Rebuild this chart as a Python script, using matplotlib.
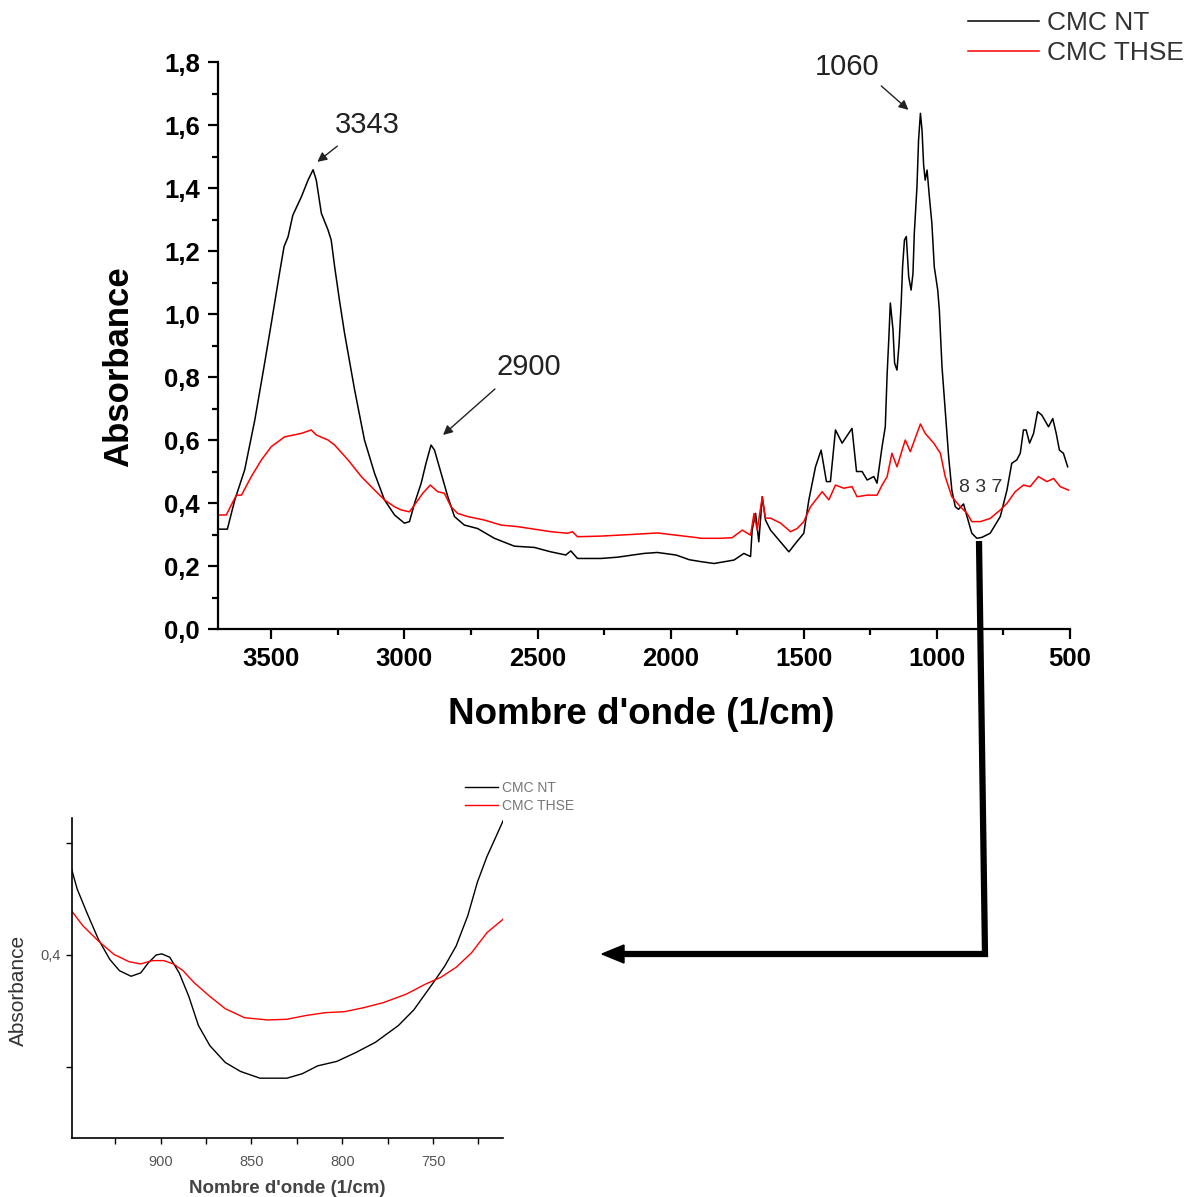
import matplotlib
matplotlib.use('Agg')
import matplotlib.pyplot as plt
from matplotlib.ticker import MultipleLocator, FuncFormatter, FixedLocator
from matplotlib.patches import Polygon

plt.rcParams['font.family'] = ['Liberation Sans', 'DejaVu Sans']

# ---------------- data ----------------
series_labels = ['CMC NT', 'CMC THSE']

nt_x = [3700, 3665, 3637, 3600, 3562, 3525, 3500, 3469, 3452, 3437, 3419, 3387, 3362, 3343,
        3331, 3312, 3287, 3275, 3262, 3244, 3225, 3187, 3150, 3112, 3075, 3037, 3000, 2981,
        2962, 2937, 2919, 2900, 2887, 2862, 2837, 2812, 2775, 2725, 2662, 2587, 2512, 2450,
        2394, 2375, 2350, 2262, 2200, 2100, 2050, 1980, 1930, 1887, 1837, 1762, 1725, 1700,
        1694, 1681, 1669, 1656, 1644, 1625, 1594, 1556, 1531, 1500, 1481, 1456, 1435, 1415,
        1400, 1381, 1356, 1319, 1302, 1281, 1262, 1237, 1225, 1206, 1194, 1187, 1181, 1175,
        1165, 1159, 1150, 1142, 1134, 1129, 1122, 1115, 1106, 1097, 1090, 1085, 1075, 1069,
        1062, 1056, 1050, 1044, 1037, 1029, 1019, 1010, 997, 991, 981, 969, 956, 944, 931,
        919, 900, 887, 869, 850, 831, 800, 762, 737, 719, 700, 687, 675, 665, 652, 637, 622,
        606, 581, 565, 552, 540, 525, 509]
nt_y = [0.317, 0.317, 0.41, 0.505, 0.663, 0.844, 0.97, 1.13, 1.214, 1.245, 1.314, 1.372, 1.425, 1.458,
        1.425, 1.32, 1.267, 1.235, 1.15, 1.044, 0.94, 0.759, 0.6, 0.494, 0.41, 0.362, 0.336, 0.341,
        0.399, 0.463, 0.526, 0.584, 0.568, 0.494, 0.42, 0.357, 0.33, 0.319, 0.288, 0.263, 0.259, 0.245,
        0.235, 0.248, 0.224, 0.224, 0.228, 0.240, 0.243, 0.235, 0.220, 0.214, 0.208, 0.219, 0.240, 0.230,
        0.314, 0.367, 0.277, 0.420, 0.346, 0.314, 0.283, 0.245, 0.272, 0.304, 0.41, 0.515, 0.568, 0.468,
        0.468, 0.632, 0.59, 0.637, 0.5, 0.5, 0.473, 0.484, 0.463, 0.579, 0.642, 0.81, 0.917, 1.035,
        0.95, 0.844, 0.822, 0.907, 1.04, 1.15, 1.235, 1.246, 1.118, 1.076, 1.129, 1.256, 1.404, 1.552,
        1.637, 1.584, 1.473, 1.425, 1.457, 1.378, 1.288, 1.15, 1.076, 1.013, 0.833, 0.695, 0.547, 0.441, 0.388,
        0.38, 0.397, 0.357, 0.304, 0.288, 0.291, 0.304, 0.357, 0.441, 0.526, 0.537, 0.558, 0.632, 0.632, 0.59, 0.621, 0.69,
        0.679, 0.642, 0.668, 0.621, 0.568, 0.558, 0.515]

thse_x = [3700, 3669, 3650, 3631, 3612, 3575, 3537, 3500, 3450, 3387, 3350, 3331, 3287, 3262,
          3212, 3162, 3112, 3075, 3037, 3012, 2981, 2962, 2931, 2903, 2875, 2850, 2825, 2800,
          2762, 2700, 2637, 2575, 2512, 2450, 2387, 2369, 2350, 2262, 2150, 2050, 1980, 1900,
          1887, 1812, 1769, 1731, 1700, 1687, 1675, 1656, 1644, 1625, 1587, 1550, 1525, 1500,
          1475, 1431, 1406, 1381, 1350, 1319, 1300, 1262, 1225, 1206, 1187, 1169, 1150, 1119,
          1100, 1062, 1044, 1012, 987, 969, 944, 912, 887, 869, 837, 800, 762, 737, 706, 675,
          650, 619, 587, 562, 537, 506]
thse_y = [0.362, 0.362, 0.394, 0.425, 0.425, 0.484, 0.537, 0.579, 0.61, 0.621, 0.632, 0.616, 0.6, 0.584,
          0.537, 0.484, 0.441, 0.41, 0.388, 0.378, 0.372, 0.394, 0.431, 0.457, 0.436, 0.431, 0.388, 0.367,
          0.357, 0.346, 0.33, 0.325, 0.317, 0.309, 0.304, 0.309, 0.293, 0.295, 0.300, 0.305, 0.298, 0.290,
          0.288, 0.288, 0.29, 0.314, 0.298, 0.367, 0.314, 0.42, 0.352, 0.352, 0.336, 0.309, 0.319, 0.341,
          0.388, 0.436, 0.41, 0.457, 0.447, 0.452, 0.42, 0.425, 0.425, 0.457, 0.484, 0.558, 0.515, 0.6,
          0.563, 0.651, 0.621, 0.59, 0.558, 0.484, 0.42, 0.388, 0.367, 0.341, 0.341, 0.351, 0.378, 0.399, 0.436, 0.457,
          0.452, 0.484, 0.468, 0.478, 0.452, 0.441]

# zoomed region (inset)
zoom_nt_x = [949.8, 946, 940.7, 934.3, 928, 922.7, 916.3, 911, 906.8, 902.5, 899.4, 895, 889.8, 884.5,
             879.2, 872.9, 864.4, 856, 845.3, 830.5, 822, 813.6, 803, 792.4, 781.8, 769.1, 760.6, 750,
             743.6, 737.3, 730.9, 725.6, 720.3, 716.1, 711.4]
zoom_nt_y = [0.481, 0.459, 0.438, 0.414, 0.396, 0.386, 0.381, 0.384, 0.393, 0.400, 0.401, 0.398, 0.384, 0.363,
             0.337, 0.319, 0.304, 0.296, 0.290, 0.290, 0.294, 0.301, 0.305, 0.313, 0.322, 0.337, 0.351, 0.375,
             0.390, 0.408, 0.435, 0.465, 0.488, 0.503, 0.520]
zoom_thse_x = [949.8, 942.8, 934.3, 925.8, 917.4, 911, 904.7, 898.3, 893, 887.7, 881.4, 872.9, 864.4, 853.8,
               841.1, 830.5, 819.9, 809.3, 798.7, 788.1, 777.5, 764.8, 754.2, 745.8, 737.3, 728.8, 720.3, 711.4]
zoom_thse_y = [0.441, 0.426, 0.4125, 0.4006, 0.394, 0.392, 0.395, 0.395, 0.392, 0.386, 0.375, 0.363, 0.352, 0.344,
               0.342, 0.3426, 0.346, 0.3485, 0.3494, 0.353, 0.3574, 0.365, 0.374, 0.380, 0.389, 0.402, 0.420, 0.432]

peak_labels = ['3343', '2900', '1060']
zoom_label = '8 3 7'

# ---------------- figure ----------------
fig = plt.figure(figsize=(11.96, 11.97), dpi=100)

ax = fig.add_axes([0.1823, 0.4745, 0.7124, 0.4737])
l1, = ax.plot(nt_x, nt_y, color='black', lw=1.1)
l2, = ax.plot(thse_x, thse_y, color='#ff0000', lw=1.1)
ax.set_xlim(3700, 500)
ax.set_ylim(0, 1.8)
for s in ['top', 'right']:
    ax.spines[s].set_visible(False)
for s in ['left', 'bottom']:
    ax.spines[s].set_linewidth(1.6)
ax.xaxis.set_major_locator(MultipleLocator(500))
ax.xaxis.set_minor_locator(MultipleLocator(250))
ax.yaxis.set_major_locator(MultipleLocator(0.2))
ax.yaxis.set_minor_locator(MultipleLocator(0.1))
ax.yaxis.set_major_formatter(FuncFormatter(lambda v, p: f"{v:.1f}".replace('.', ',')))
ax.xaxis.set_major_formatter(FuncFormatter(lambda v, p: f"{int(round(v))}"))
ax.tick_params(which='major', length=7, width=1.6, direction='out', labelsize=18.5, pad=6)
ax.tick_params(which='minor', length=4, width=1.6, direction='out')
for lab in ax.get_xticklabels() + ax.get_yticklabels():
    lab.set_fontweight('bold')
ax.set_xlabel("Nombre d'onde (1/cm)", fontsize=26.5, fontweight='bold')
ax.xaxis.set_label_coords(0.497, -0.12)
ax.set_ylabel('Absorbance', fontsize=25, fontweight='bold')
ax.yaxis.set_label_coords(-0.0974, 0.462)

txtc = '#222222'
arrow_kw = dict(arrowstyle='-|>', color='#222222', lw=1.0, mutation_scale=14, shrinkA=0, shrinkB=0)
ax.text(3140, 1.60, peak_labels[0], fontsize=21, color=txtc, ha='center', va='center')
ax.annotate('', xy=(3327, 1.483), xytext=(3252, 1.533), arrowprops=arrow_kw)
ax.text(2532, 0.832, peak_labels[1], fontsize=21, color=txtc, ha='center', va='center')
ax.annotate('', xy=(2855, 0.616), xytext=(2660, 0.762), arrowprops=arrow_kw)
ax.text(1336, 1.784, peak_labels[2], fontsize=21, color=txtc, ha='center', va='center')
ax.annotate('', xy=(1107, 1.648), xytext=(1209, 1.724), arrowprops=arrow_kw)
ax.text(834, 0.448, zoom_label, fontsize=14, color='#333333', ha='center', va='center')

leg = ax.legend([l1, l2], series_labels, loc='upper left',
                bbox_to_anchor=(968 / 1196, 1 - 11 / 1197), bbox_transform=fig.transFigure,
                frameon=False, fontsize=19, handlelength=2.7, handletextpad=0.3,
                labelspacing=0.22, borderaxespad=0, borderpad=0)
for t in leg.get_texts():
    t.set_color('#333333')

# ---------------- inset ----------------
ax2 = fig.add_axes([0.05995, 0.0493, 0.3606, 0.2673])
m1, = ax2.plot(zoom_nt_x, zoom_nt_y, color='black', lw=1.0)
m2, = ax2.plot(zoom_thse_x, zoom_thse_y, color='#ff0000', lw=1.0)
ax2.set_xlim(949, 711.5)
ax2.set_ylim(0.2366, 0.5223)
for s in ['top', 'right']:
    ax2.spines[s].set_visible(False)
for s in ['left', 'bottom']:
    ax2.spines[s].set_linewidth(1.2)
ax2.yaxis.set_major_locator(FixedLocator([0.3, 0.4, 0.5]))
ax2.yaxis.set_major_formatter(FuncFormatter(lambda v, p: '0,4' if abs(v - 0.4) < 1e-6 else ''))
ax2.xaxis.set_major_locator(MultipleLocator(25))
ax2.xaxis.set_major_formatter(FuncFormatter(lambda v, p: f"{int(round(v))}" if int(round(v)) % 50 == 0 else ''))
ax2.tick_params(which='major', length=4, width=1.0, direction='out', labelsize=10.5,
                labelcolor='#555555', pad=4)
ax2.tick_params(axis='x', pad=8)
ax2.set_xlabel("Nombre d'onde (1/cm)", fontsize=13.5, fontweight='bold', color='#444444')
ax2.xaxis.set_label_coords(0.50, -0.13)
ax2.set_ylabel('Absorbance', fontsize=15, color='#333333')
ax2.yaxis.set_label_coords(-0.101, 0.4625)
leg2 = ax2.legend([m1, m2], series_labels, loc='upper left',
                  bbox_to_anchor=(465 / 1196, 1 - 781 / 1197), bbox_transform=fig.transFigure,
                  frameon=False, fontsize=10, handlelength=2.4, handletextpad=0.25,
                  labelspacing=0.3, borderaxespad=0, borderpad=0)
for t in leg2.get_texts():
    t.set_color('#777777')

# ---------------- connecting arrow (decoration) ----------------
ov = fig.add_axes([0, 0, 1, 1])
ov.set_xlim(0, 1196)
ov.set_ylim(1197, 0)
ov.axis('off')
ov.patch.set_alpha(0)
ov.plot([979, 985, 620], [541, 954, 954], color='black', lw=4.5, solid_joinstyle='miter',
        solid_capstyle='butt')
ov.add_patch(Polygon([[602, 954], [624, 945], [624, 963]], closed=True, color='black'))

fig.savefig('out.png', dpi=100)
